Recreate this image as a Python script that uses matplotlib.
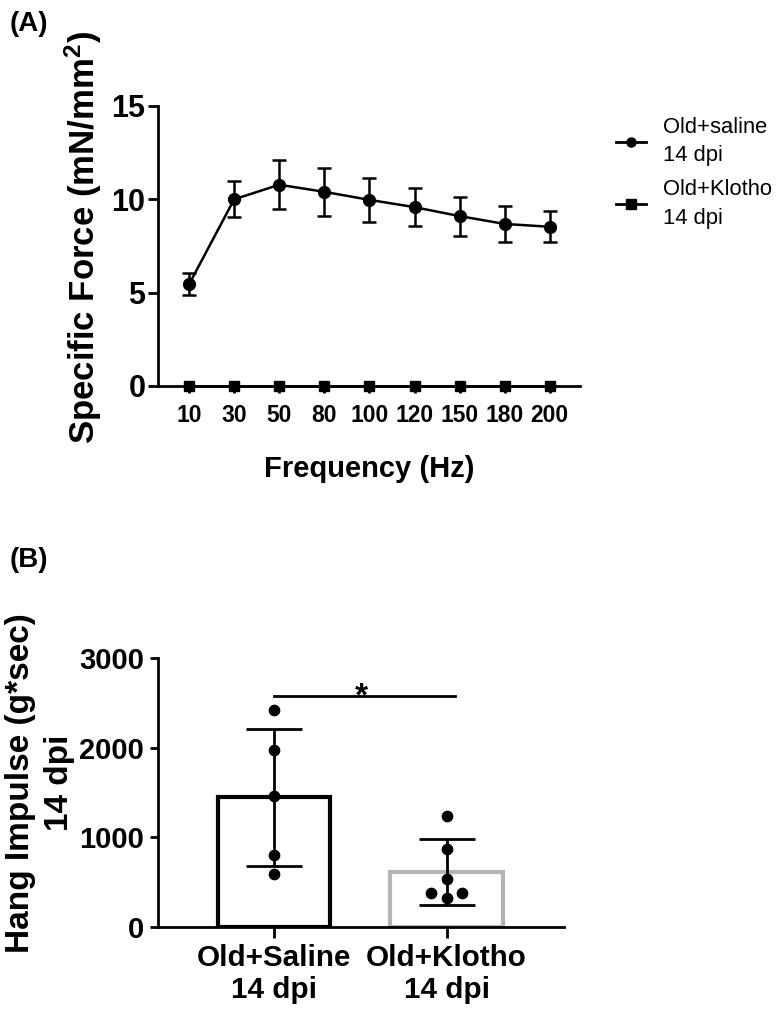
import numpy as np
import matplotlib
matplotlib.use('Agg')
import matplotlib.pyplot as plt
from matplotlib.lines import Line2D

plt.rcParams['font.family'] = ['Liberation Sans', 'DejaVu Sans']
plt.rcParams['font.weight'] = 'bold'
plt.rcParams['axes.labelweight'] = 'bold'
plt.rcParams['mathtext.fontset'] = 'custom'
plt.rcParams['mathtext.rm'] = 'Liberation Sans:bold'
plt.rcParams['mathtext.bf'] = 'Liberation Sans:bold'
plt.rcParams['mathtext.it'] = 'Liberation Sans:bold'

# panel A: specific force vs stimulation frequency
freq = ['10', '30', '50', '80', '100', '120', '150', '180', '200']
saline_force = [5.45, 10.0, 10.78, 10.4, 9.97, 9.58, 9.1, 8.68, 8.53]
saline_err = [0.58, 0.97, 1.3, 1.27, 1.17, 1.03, 1.05, 0.97, 0.82]
klotho_force = [0, 0, 0, 0, 0, 0, 0, 0, 0]
klotho_err = [0, 0, 0, 0, 0, 0, 0, 0, 0]

# panel B: hang impulse
groups = ['Old+Saline\n14 dpi', 'Old+Klotho\n14 dpi']
hang_mean = [1445, 615]
hang_sd = [768, 365]
saline_pts = [2420, 1974, 1460, 800, 587]
klotho_pts = [1234, 870, 535, 379, 323, 379]
klotho_jitter = [0, 0, 0, -0.09, 0, 0.09]

fig = plt.figure(figsize=(7.76, 10.11), dpi=100)

# ---------- (A) ----------
axA = fig.add_axes([0.2036, 0.6182, 0.5438, 0.277])
x = np.arange(len(freq))
axA.errorbar(x, saline_force, yerr=saline_err, color='black', marker='o', markersize=8.5,
             linewidth=1.8, elinewidth=1.8, capsize=5, capthick=1.8, clip_on=False, zorder=3)
axA.errorbar(x, klotho_force, yerr=klotho_err, color='black', marker='s', markersize=7.5,
             linewidth=1.8, elinewidth=1.8, capsize=0, clip_on=False, zorder=4)
axA.set_xlim(-0.69, 8.67)
axA.set_ylim(0, 15)
axA.set_yticks([0, 5, 10, 15])
axA.set_xticks(x)
axA.set_xticklabels(freq, fontsize=16.5)
axA.tick_params(axis='y', labelsize=22, width=2, length=7, pad=2)
axA.tick_params(axis='x', width=2, length=5, pad=8)
for s in ['top', 'right']:
    axA.spines[s].set_visible(False)
for s in ['left', 'bottom']:
    axA.spines[s].set_linewidth(2)
axA.set_xlabel('Frequency (Hz)', fontsize=21, labelpad=20)
fig.text(83 / 776, 1 - 238 / 1011, 'Specific Force (mN/mm$^{2}$)', rotation=90,
         fontsize=25, ha='center', va='center')

handles = [Line2D([], [], color='black', marker='o', markersize=6.5, linewidth=2),
           Line2D([], [], color='black', marker='s', markersize=7, linewidth=2)]
leg = fig.legend(handles, ['Old+saline\n14 dpi', 'Old+Klotho\n14 dpi'], loc='upper left',
                 bbox_to_anchor=(616 / 776, 1 - 117 / 1011), frameon=False,
                 prop={'family': 'Liberation Sans', 'weight': 'normal', 'size': 15.8},
                 handlelength=1.35, handletextpad=0.8, labelspacing=0.6,
                 borderpad=0, borderaxespad=0)
for t in leg.get_texts():
    t.set_linespacing(1.45)

fig.text(10 / 776, 1 - 24 / 1011, '(A)', fontsize=20, ha='left', va='center')

# ---------- (B) ----------
axB = fig.add_axes([0.2036, 0.0831, 0.5232, 0.2661])
xb = np.arange(len(groups))
axB.bar(xb, hang_mean, width=0.65, color='white', edgecolor=['black', '#b4b4b4'],
        linewidth=3, zorder=1)
axB.errorbar(xb, hang_mean, yerr=hang_sd, fmt='none', ecolor='black', elinewidth=2,
             capsize=20, capthick=2, zorder=3)
axB.scatter(np.zeros(len(saline_pts)), saline_pts, s=55, color='black', zorder=4)
axB.scatter(1 + np.array(klotho_jitter), klotho_pts, s=55, color='black', zorder=4)
axB.plot([0, 1.05], [2580, 2580], color='black', linewidth=2)
axB.text(0.51, 2470, '*', ha='center', va='baseline', fontsize=24)
axB.set_xlim(-0.67, 1.68)
axB.set_ylim(0, 3000)
axB.set_yticks([0, 1000, 2000, 3000])
axB.set_xticks(xb)
axB.set_xticklabels(groups, fontsize=21.3, linespacing=1.2)
axB.tick_params(axis='y', labelsize=21, width=2, length=6, pad=4)
axB.tick_params(axis='x', width=2, length=8, pad=4)
for s in ['top', 'right']:
    axB.spines[s].set_visible(False)
for s in ['left', 'bottom']:
    axB.spines[s].set_linewidth(2)
fig.text(40 / 776, 1 - 783 / 1011, 'Hang Impulse (g*sec)\n14 dpi', rotation=90,
         fontsize=24, ha='center', va='center', multialignment='center', linespacing=1.3)

fig.text(10 / 776, 1 - 560 / 1011, '(B)', fontsize=20, ha='left', va='center')

fig.savefig('out.png', dpi=100)
